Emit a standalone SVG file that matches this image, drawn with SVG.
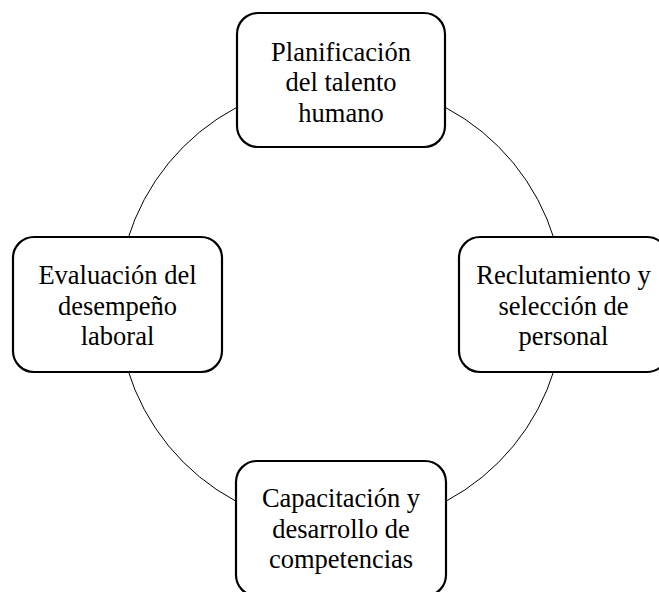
<svg xmlns="http://www.w3.org/2000/svg" width="659" height="592" viewBox="0 0 659 592">
<style>
.box{fill:#fff;stroke:#000;stroke-width:2.2}
.ring{fill:none;stroke:#000;stroke-width:1}
.t{font-family:"Liberation Serif","Times New Roman",serif;font-size:26.5px;fill:#000;text-anchor:middle}
</style>
<rect width="659" height="592" fill="#fff"/>
<g id="connectors">
<circle class="ring" cx="341" cy="304.5" r="223"/>
</g>
<g id="node-planificacion">
<rect class="box" x="237" y="13" width="208" height="134" rx="21" ry="21"/>
<text class="t" x="341" y="61">Planificación</text>
<text class="t" x="341" y="91.3">del talento</text>
<text class="t" x="341" y="121.6">humano</text>
</g>
<g id="node-reclutamiento">
<rect class="box" x="459" y="237" width="209" height="135" rx="21" ry="21"/>
<text class="t" x="563.5" y="284.3">Reclutamiento y</text>
<text class="t" x="563.5" y="314.6">selección de</text>
<text class="t" x="563.5" y="344.9">personal</text>
</g>
<g id="node-capacitacion">
<rect class="box" x="236" y="461" width="210" height="135" rx="21" ry="21"/>
<text class="t" x="341" y="507.3">Capacitación y</text>
<text class="t" x="341" y="537.6">desarrollo de</text>
<text class="t" x="341" y="567.9">competencias</text>
</g>
<g id="node-evaluacion">
<rect class="box" x="13" y="237" width="209" height="135" rx="21" ry="21"/>
<text class="t" x="117.5" y="284.3">Evaluación del</text>
<text class="t" x="117.5" y="314.6">desempeño</text>
<text class="t" x="117.5" y="344.9">laboral</text>
</g>
</svg>
